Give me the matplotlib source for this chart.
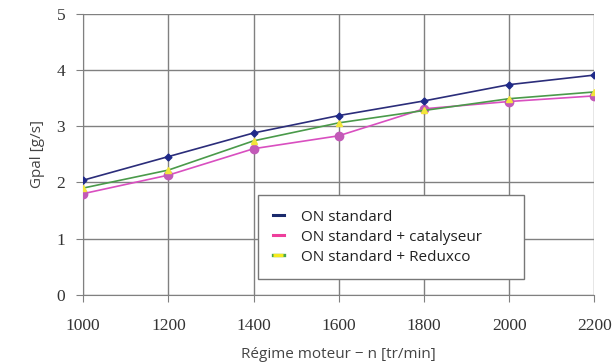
import matplotlib.pyplot as plt
from matplotlib.lines import Line2D

regime = [1000, 1200, 1400, 1600, 1800, 2000, 2200]
on_standard = [2.04, 2.46, 2.88, 3.19, 3.45, 3.74, 3.91]
on_catalyseur = [1.80, 2.13, 2.60, 2.83, 3.31, 3.44, 3.54]
on_reduxco = [1.90, 2.22, 2.74, 3.06, 3.28, 3.49, 3.61]

labels = ["ON standard", "ON standard + catalyseur", "ON standard + Reduxco"]
x_ticks = [1000, 1200, 1400, 1600, 1800, 2000, 2200]
y_ticks = [0, 1, 2, 3, 4, 5]

fig = plt.figure(figsize=(6.12, 3.64), dpi=100)
ax = fig.add_axes([0.136, 0.190, 0.835, 0.772])

ax.plot(regime, on_standard, color="#2b2d7a", lw=1.2, marker="D", ms=3.5,
        mfc="#1f2a8a", mec="#1f2a8a", zorder=4)
ax.plot(regime, on_catalyseur, color="#d94fc0", lw=1.2, marker="o", ms=6,
        mfc="#c25ab8", mec="#c25ab8", zorder=3)
ax.plot(regime, on_reduxco, color="#4a9a4a", lw=1.2, marker="^", ms=5,
        mfc="#f2e63a", mec="#f2e63a", zorder=3)

ax.set_xlim(1000, 2200)
ax.set_ylim(0, 5)
ax.set_xticks(x_ticks)
ax.set_yticks(y_ticks)
ax.grid(True, color="#808080", lw=1.0)
ax.set_axisbelow(True)
for s in ["top", "right"]:
    ax.spines[s].set_visible(False)
for s in ["left", "bottom"]:
    ax.spines[s].set_color("#808080")
ax.tick_params(direction="out", length=5, color="#808080")
ax.tick_params(axis="x", pad=12)
ax.tick_params(axis="y", pad=8)
for lab in ax.get_xticklabels() + ax.get_yticklabels():
    lab.set_family("Liberation Serif")
    lab.set_fontsize(12.5)
    lab.set_color("#333333")

ax.set_xlabel("Régime moteur − n [tr/min]", family="Open Sans", fontsize=11,
              color="#444444", labelpad=9)
ax.set_ylabel("Gpal [g/s]", family="Open Sans", fontsize=11, color="#444444",
              labelpad=8)

handles = [
    Line2D([], [], color="#1a2a6c", lw=2.2),
    Line2D([], [], color="#ee3f9c", lw=2.2),
    (Line2D([], [], color="#4aa84a", lw=2.4),
     Line2D([], [], color="#f5ea1e", lw=2.4, dashes=(3, 2))),
]
leg = ax.legend(handles, labels, loc="lower left",
                bbox_to_anchor=(0.342, 0.056, 0.52, 0.29), mode="expand",
                fancybox=False, framealpha=1, edgecolor="#777777",
                prop={"family": "Open Sans", "size": 11}, handlelength=0.75,
                handletextpad=1.1, borderpad=0.95, borderaxespad=0,
                labelspacing=0.32)
for t in leg.get_texts():
    t.set_color("#222222")
leg.set_zorder(6)

fig.savefig("out.png", dpi=100)
